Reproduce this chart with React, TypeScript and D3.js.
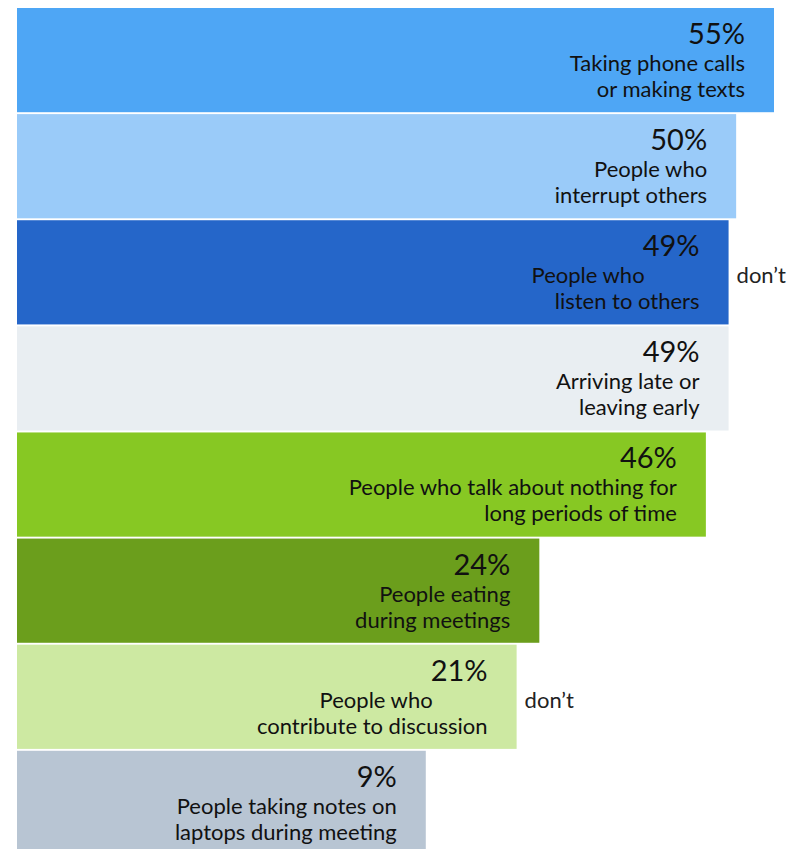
import React, { useEffect, useRef } from 'react';
import * as d3 from 'd3';

const percents = [55, 50, 49, 49, 46, 24, 21, 9];
const firstLines = [
  'Taking phone calls',
  'People who',
  'People who',
  'Arriving late or',
  'People who talk about nothing for',
  'People eating',
  'People who',
  'People taking notes on',
];
const secondLines = [
  'or making texts',
  'interrupt others',
  'listen to others',
  'leaving early',
  'long periods of time',
  'during meetings',
  'contribute to discussion',
  'laptops during meeting',
];
// word that slipped out of the first line and sits right of the bar
const sideNotes = ['', '', 'don\u2019t', '', '', '', 'don\u2019t', ''];
const barColors = ['#4ea6f5', '#9acbf9', '#2566c9', '#e9eef2', '#87c823', '#6b9e1c', '#cde9a2', '#b8c5d3'];

const W = 796;
const H = 849;
const FONT = 'Lato, "Noto Sans", sans-serif';

const App: React.FC = () => {
  const ref = useRef<SVGSVGElement>(null);

  useEffect(() => {
    const svg = d3.select(ref.current);
    svg.selectAll('*').remove();

    const idx = percents.map((_, i) => i);
    const y = d3.scaleBand<number>().domain(idx).range([8, 855]).paddingInner(0.018);
    // bars all start at the same left edge; the scale has an offset floor
    const x = d3.scaleLinear().domain([-45, 55]).range([17, 774]);

    const g = svg.selectAll('g.bar').data(idx).enter().append('g').attr('class', 'bar');

    g.append('rect')
      .attr('x', x(-45))
      .attr('y', (i) => y(i)!)
      .attr('width', (i) => x(percents[i]) - x(-45))
      .attr('height', y.bandwidth())
      .attr('fill', (i) => barColors[i]);

    const pad = 29;

    g.append('text')
      .attr('x', (i) => x(percents[i]) - pad)
      .attr('y', (i) => y(i)! + 36)
      .attr('text-anchor', 'end')
      .attr('font-family', FONT)
      .attr('font-size', 29)
      .attr('fill', '#111')
      .text((i) => `${percents[i]}%`);

    const first = g.append('text')
      .attr('x', (i) => x(percents[i]) - pad)
      .attr('y', (i) => y(i)! + 63)
      .attr('text-anchor', 'end')
      .attr('font-family', FONT)
      .attr('font-size', 22)
      .attr('fill', '#111');
    first.append('tspan').text((i) => firstLines[i]);
    first.filter((i) => sideNotes[i] !== '')
      .append('tspan')
      .attr('fill-opacity', 0)
      .text((i) => ' ' + sideNotes[i]);

    g.append('text')
      .attr('x', (i) => x(percents[i]) - pad)
      .attr('y', (i) => y(i)! + 89)
      .attr('text-anchor', 'end')
      .attr('font-family', FONT)
      .attr('font-size', 22)
      .attr('fill', '#111')
      .text((i) => secondLines[i]);

    g.filter((i) => sideNotes[i] !== '')
      .append('text')
      .attr('x', (i) => x(percents[i]) + 8)
      .attr('y', (i) => y(i)! + 63)
      .attr('font-family', FONT)
      .attr('font-size', 22)
      .attr('fill', '#222')
      .text((i) => sideNotes[i]);
  }, []);

  return (
    <svg
      ref={ref}
      width={W}
      height={H}
      style={{ position: 'absolute', left: 0, top: 0, display: 'block', background: '#fff' }}
    ></svg>
  );
};

export default App;
